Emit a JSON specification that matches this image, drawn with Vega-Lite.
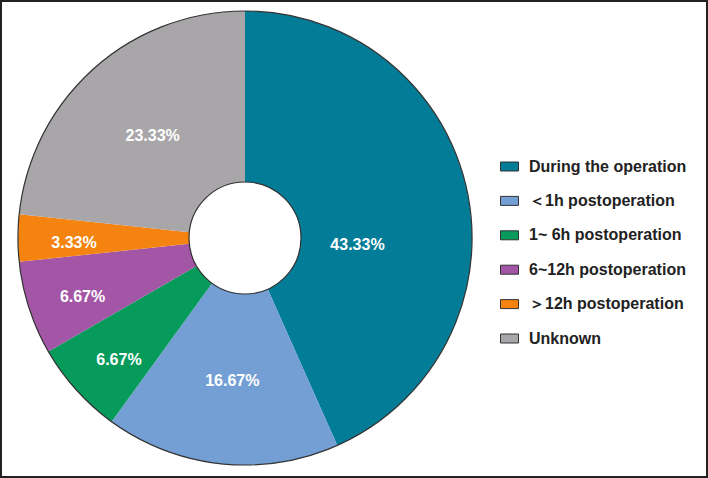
{
  "$schema": "https://vega.github.io/schema/vega-lite/v6.json",
  "width": 708,
  "height": 478,
  "padding": 0,
  "autosize": {"type": "none"},
  "background": "white",
  "config": {
    "view": {"stroke": "#222222", "strokeWidth": 4},
    "font": "Liberation Sans"
  },
  "data": {
    "values": [
      {"category": "During the operation", "count": 13, "pct": "43.33%", "rank": 1},
      {"category": "＜1h postoperation", "count": 5, "pct": "16.67%", "rank": 2},
      {"category": "1~ 6h postoperation", "count": 2, "pct": "6.67%", "rank": 3},
      {"category": "6~12h postoperation", "count": 2, "pct": "6.67%", "rank": 4},
      {"category": "＞12h postoperation", "count": 1, "pct": "3.33%", "rank": 5},
      {"category": "Unknown", "count": 7, "pct": "23.33%", "rank": 6}
    ]
  },
  "encoding": {
    "x": {"datum": 0, "type": "quantitative", "scale": {"domain": [-1, 1.8898], "nice": false, "zero": false}, "axis": null},
    "y": {"datum": 0, "type": "quantitative", "scale": {"domain": [-1, 0.9917], "nice": false, "zero": false}, "axis": null}
  },
  "layer": [
    {
      "mark": {"type": "arc", "outerRadius": 227, "innerRadius": 56},
      "encoding": {
        "theta": {"field": "count", "type": "quantitative", "stack": true},
        "order": {"field": "rank", "type": "quantitative"},
        "color": {
          "field": "category",
          "type": "nominal",
          "sort": ["During the operation", "＜1h postoperation", "1~ 6h postoperation", "6~12h postoperation", "＞12h postoperation", "Unknown"],
          "scale": {
            "domain": ["During the operation", "＜1h postoperation", "1~ 6h postoperation", "6~12h postoperation", "＞12h postoperation", "Unknown"],
            "range": ["#027c97", "#749fd5", "#069a5b", "#a356a6", "#f4840f", "#a8a6a9"]
          },
          "legend": {
            "title": null,
            "orient": "none",
            "legendX": 500,
            "legendY": 157,
            "padding": 0,
            "symbolType": "M-1,-0.5H1V0.5H-1Z",
            "symbolSize": 324,
            "symbolStrokeColor": "#333333",
            "symbolStrokeWidth": 1,
            "symbolOpacity": 1,
            "labelFont": "Liberation Sans",
            "labelFontWeight": "bold",
            "labelFontSize": 16,
            "labelColor": "#222222",
            "labelOffset": 10,
            "labelLimit": 300,
            "rowPadding": 16.4
          }
        }
      }
    },
    {
      "transform": [{"aggregate": [{"op": "sum", "field": "count", "as": "total"}]}],
      "mark": {"type": "arc", "outerRadius": 227, "innerRadius": 56, "fill": null, "fillOpacity": 0, "stroke": "#333333", "strokeWidth": 1.2},
      "encoding": {
        "theta": {"field": "total", "type": "quantitative"}
      }
    },
    {
      "mark": {"type": "text", "font": "Liberation Sans", "fontWeight": "bold", "fontSize": 16, "fill": "white", "align": "center", "baseline": "middle", "radius": 175, "dx": 4, "dy": 5},
      "encoding": {
        "theta": {"field": "count", "type": "quantitative", "stack": true},
        "order": {"field": "rank", "type": "quantitative"},
        "text": {"condition": {"test": "datum.count > 2", "value": ""}, "field": "pct"}
      }
    },
    {
      "mark": {"type": "text", "font": "Liberation Sans", "fontWeight": "bold", "fontSize": 16, "fill": "white", "align": "center", "baseline": "middle", "radius": 141, "dx": 2, "dy": 3},
      "encoding": {
        "theta": {"field": "count", "type": "quantitative", "stack": true},
        "order": {"field": "rank", "type": "quantitative"},
        "text": {"condition": {"test": "datum.count <= 2 || datum.rank == 1", "value": ""}, "field": "pct"}
      }
    },
    {
      "transform": [{"filter": "datum.rank == 1"}],
      "mark": {"type": "text", "font": "Liberation Sans", "fontWeight": "bold", "fontSize": 16, "fill": "white", "align": "center", "baseline": "middle", "radius": 115, "dy": 31},
      "encoding": {
        "theta": {"field": "count", "type": "quantitative", "stack": true},
        "order": {"field": "rank", "type": "quantitative"},
        "text": {"field": "pct"}
      }
    }
  ]
}
